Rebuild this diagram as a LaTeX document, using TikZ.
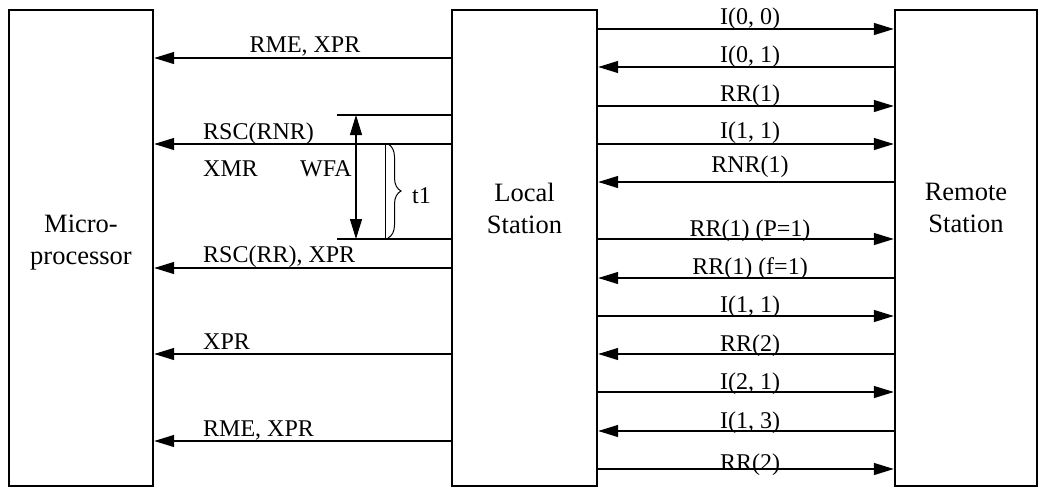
\documentclass[tikz,border=0pt]{standalone}
\usepackage{fontspec}
\setmainfont{Liberation Serif}
\usetikzlibrary{arrows.meta,decorations.pathreplacing}
\begin{document}
\begin{tikzpicture}[x=1pt,y=-1pt,
  box/.style={draw, line width=2.4pt, minimum height=476pt, inner sep=0pt},
  boxlab/.style={font=\fontsize{26.5}{32}\selectfont, align=center, inner sep=0pt},
  lab/.style={font=\fontsize{24}{28}\selectfont, inner sep=0pt},
  arr/.style={line width=1.3pt, -{Triangle[length=20pt,width=12pt]}},
  arrboth/.style={line width=1.3pt, {Triangle[length=20pt,width=12pt]}-{Triangle[length=20pt,width=12pt]}},
  thin line/.style={line width=1.3pt}]
\useasboundingbox (0,0) rectangle (1040,493);
% boxes
\node[box, minimum width=144pt] (micro) at (81,248) {};
\node[box, minimum width=145pt] (local) at (524.5,248) {};
\node[box, minimum width=142pt] (remote) at (966,248) {};
\node[boxlab] (microlab) at (81,242.5) {Micro-\\processor};
\node[boxlab] (locallab) at (524.5,208) {Local\\Station};
\node[boxlab] (remotelab) at (966,207.5) {Remote\\Station};
% right-pointing arrows local -> remote
\foreach \y/\d/\lab [count=\i] in {29/5/{I(0, 0)}, 106/5/{RR(1)}, 144/5.7/{I(1, 1)}, 239/3/{RR(1) (P=1)}, 316/3.7/{I(1, 1)}, 392/2.7/{I(2, 1)}, 469/-1/{RR(2)}}{
  \draw[arr] (local.east |- 0,\y) -- (remote.west |- 0,\y);
  \node[lab, anchor=base] (rr\i) at (750,\y-\d) {\lab};
}
% left-pointing arrows remote -> local
\foreach \y/\d/\lab [count=\i] in {67/4.3/{I(0, 1)}, 182/10/{RNR(1)}, 278/4/{RR(1) (f=1)}, 354/2.5/{RR(2)}, 431/2.7/{I(1, 3)}}{
  \draw[arr] (remote.west |- 0,\y) -- (local.east |- 0,\y);
  \node[lab, anchor=base] (rl\i) at (750,\y-\d) {\lab};
}
% arrows local -> micro
\draw[arr] (local.west |- 0,58) -- (micro.east |- 0,58);
\node[lab, anchor=base] (ml1) at (305,52.7) {RME, XPR};
\foreach \y/\d/\lab [count=\i] in {144/4.7/{RSC(RNR)}, 268/5.3/{RSC(RR), XPR}, 354/4.7/{XPR}, 441/4.3/{RME, XPR}}{
  \draw[arr] (local.west |- 0,\y) -- (micro.east |- 0,\y);
  \node[lab, anchor=base west] (ml\i x) at (203,\y-\d) {\lab};
}
\node[lab, anchor=base west] (xmr) at (203,176.7) {XMR};
\node[lab, anchor=base west] (wfa) at (300,176.7) {WFA};
% WFA timing marks
\coordinate (h1) at (337,115);
\coordinate (h2) at (337,239);
\draw[thin line] (local.west |- h1) -- (h1);
\draw[thin line] (local.west |- h2) -- (h2);
\coordinate (a1) at (356,115);
\coordinate (a2) at (356,239);
\draw[arrboth] (a1) -- (a2);
\coordinate (v1) at (385,144);
\coordinate (v2) at (385,239);
\draw[line width=1pt] (v1) -- (v2);
\coordinate (b1) at (388,144);
\coordinate (b2) at (388,238);
\draw[line width=1pt, decorate, decoration={brace, amplitude=13pt}] (b1) -- (b2);
\node[lab, anchor=base west] (t1) at (412,203) {t1};
\end{tikzpicture}
\end{document}
